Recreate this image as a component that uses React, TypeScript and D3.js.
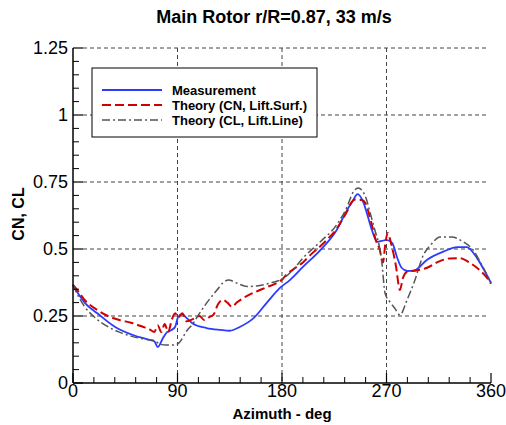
import React from "react";
import * as d3 from "d3";

const title = "Main Rotor r/R=0.87, 33 m/s";
const xLabel = "Azimuth - deg";
const yLabel = "CN, CL";
const xTicks = [0, 90, 180, 270, 360];
const yTicks = [0, 0.25, 0.5, 0.75, 1, 1.25];
const yTickLabels = ["0", "0.25", "0.5", "0.75", "1", "1.25"];
const seriesNames = ["Measurement", "Theory (CN, Lift.Surf.)", "Theory (CL, Lift.Line)"];

const measurement: [number, number][] = [
  [0, 0.366], [5, 0.33], [10, 0.3], [21, 0.26], [36, 0.21], [51, 0.18], [65, 0.162], [70, 0.156],
  [73, 0.134], [77.5, 0.168], [81, 0.19], [85, 0.198], [88, 0.21], [90.5, 0.246], [94, 0.257],
  [98, 0.242], [103, 0.222], [115, 0.205], [127, 0.198], [135, 0.195], [144, 0.21], [155, 0.24],
  [167, 0.3], [178, 0.354], [187, 0.385], [198, 0.433], [213, 0.496], [227, 0.57], [236, 0.645],
  [241, 0.68], [245, 0.705], [250, 0.675], [254, 0.62], [257.5, 0.57], [262, 0.527], [266, 0.53],
  [270, 0.534], [275, 0.522], [279, 0.47], [283, 0.43], [288, 0.418], [294, 0.42], [305, 0.46],
  [319, 0.49], [331, 0.507], [339, 0.507], [348, 0.466], [355, 0.414], [360, 0.373],
];

const theoryCN: [number, number][] = [
  [0, 0.366], [5, 0.34], [10, 0.31], [20, 0.275], [30, 0.25], [40, 0.235], [50, 0.225], [60, 0.21],
  [66, 0.2], [70, 0.19], [73, 0.215], [76, 0.19], [79, 0.22], [82, 0.19], [85, 0.235], [88, 0.26],
  [91, 0.245], [94, 0.26], [98, 0.23], [104, 0.24], [109, 0.25], [113, 0.235], [117, 0.245],
  [121, 0.255], [125, 0.295], [129, 0.31], [133, 0.3], [137, 0.284], [141, 0.3], [146, 0.315],
  [152, 0.33], [160, 0.345], [167, 0.358], [174, 0.37], [181, 0.39], [184, 0.405], [190, 0.425],
  [198, 0.45], [205, 0.48], [213, 0.51], [220, 0.54], [227, 0.575], [232, 0.61], [236, 0.64],
  [240, 0.675], [243, 0.685], [249, 0.683], [252, 0.67], [255, 0.63], [258, 0.58], [261, 0.53],
  [264, 0.5], [267, 0.45], [269, 0.52], [271, 0.56], [274, 0.52], [278, 0.44], [281.6, 0.347],
  [284, 0.39], [288, 0.415], [296, 0.42], [305, 0.43], [313.5, 0.45], [324.7, 0.465], [333, 0.466],
  [342, 0.448], [350.5, 0.42], [357, 0.39], [360, 0.37],
];

const theoryCL: [number, number][] = [
  [0, 0.366], [5, 0.32], [10, 0.285], [20, 0.24], [30, 0.21], [40, 0.19], [50, 0.175], [60, 0.165],
  [70, 0.158], [75, 0.145], [80, 0.142], [88, 0.142], [92, 0.153], [98, 0.195], [103, 0.22],
  [107, 0.247], [115, 0.298], [124, 0.347], [129, 0.373], [134, 0.384], [141, 0.373], [150, 0.36],
  [158, 0.362], [170, 0.373], [181, 0.39], [190, 0.425], [198, 0.466], [213, 0.527], [227, 0.59],
  [236, 0.657], [241, 0.71], [245.5, 0.728], [251.5, 0.7], [256, 0.634], [260, 0.57], [264, 0.507],
  [266, 0.45], [268.7, 0.336], [273, 0.302], [277, 0.28], [281.6, 0.254], [287.7, 0.31],
  [294.5, 0.384], [301, 0.47], [309, 0.52], [316, 0.545], [326, 0.545], [336, 0.527],
  [344.5, 0.497], [353, 0.433], [360, 0.375],
];

const W = 506;
const H = 425;
const left = 73, right = 491, top = 48, bottom = 383;

export default function App() {
  const x = d3.scaleLinear().domain([0, 360]).range([left, right]);
  const y = d3.scaleLinear().domain([0, 1.25]).range([bottom, top]);
  const line = d3
    .line<[number, number]>()
    .x((d) => x(d[0]))
    .y((d) => y(d[1]))
    .curve(d3.curveMonotoneX);

  const xMinor = d3.range(0, 361, 18).filter((v) => v % 90 !== 0);
  const yMinor = d3.range(0, 1.2501, 0.05).filter((v) => Math.abs((v / 0.25) - Math.round(v / 0.25)) > 1e-6);
  const gridDash = "4,3";
  const gridColor = "#444";
  const font = "Liberation Sans, Arial, sans-serif";

  const styles = [
    { stroke: "#2b3cff", width: 1.8, dash: undefined as string | undefined },
    { stroke: "#d10000", width: 2, dash: "9,4" },
    { stroke: "#555555", width: 1.5, dash: "8,3,2,3" },
  ];
  const data = [measurement, theoryCN, theoryCL];

  return (
    <svg
      width={W}
      height={H}
      style={{ position: "absolute", left: 0, top: 0, background: "#fff" }}
      fontFamily={font}
    >
      <rect x={0} y={0} width={W} height={H} fill="#fff" />
      <text x={274} y={23} textAnchor="middle" fontSize={18} fontWeight="bold" fill="#000">
        {title}
      </text>

      {/* horizontal grid */}
      {yTicks.filter((v) => v > 0).map((v) => (
        <line key={"hg" + v} x1={left + 10} x2={right - 2} y1={y(v)} y2={y(v)}
          stroke={gridColor} strokeDasharray={gridDash} strokeWidth={1} />
      ))}
      {/* vertical grid */}
      {xTicks.filter((v) => v > 0 && v < 360).map((v) => (
        <line key={"vg" + v} x1={x(v)} x2={x(v)} y1={top} y2={bottom}
          stroke={gridColor} strokeDasharray={gridDash} strokeWidth={1} />
      ))}

      {/* series */}
      {data.map((d, i) => (
        <path key={"s" + i} d={line(d) || ""} fill="none" stroke={styles[i].stroke}
          strokeWidth={styles[i].width} strokeDasharray={styles[i].dash} strokeLinejoin="round" />
      ))}

      {/* axes */}
      <line x1={left} x2={left} y1={top} y2={bottom} stroke="#000" strokeWidth={1.5} />
      <line x1={left} x2={right} y1={bottom} y2={bottom} stroke="#000" strokeWidth={1.5} />
      {yTicks.map((v) => (
        <line key={"yt" + v} x1={left} x2={left + 10} y1={y(v)} y2={y(v)} stroke="#000" strokeWidth={1.2} />
      ))}
      {yMinor.map((v) => (
        <line key={"ym" + v} x1={left} x2={left + 6} y1={y(v)} y2={y(v)} stroke="#000" strokeWidth={1} />
      ))}
      {xTicks.map((v) => (
        <line key={"xt" + v} x1={x(v)} x2={x(v)} y1={bottom} y2={bottom - 10} stroke="#000" strokeWidth={1.2} />
      ))}
      {xMinor.map((v) => (
        <line key={"xm" + v} x1={x(v)} x2={x(v)} y1={bottom} y2={bottom - 6} stroke="#000" strokeWidth={1} />
      ))}

      {/* tick labels */}
      {yTicks.map((v, i) => (
        <text key={"yl" + v} x={left - 5} y={y(v) + 6} textAnchor="end" fontSize={18} fill="#000">
          {yTickLabels[i]}
        </text>
      ))}
      {xTicks.map((v) => (
        <text key={"xl" + v} x={x(v)} y={bottom + 14} textAnchor="middle" fontSize={18} fill="#000">
          {String(v)}
        </text>
      ))}

      <text x={282} y={419} textAnchor="middle" fontSize={15} fontWeight="bold" fill="#000">
        {xLabel}
      </text>
      <text transform="translate(24,214) rotate(-90)" textAnchor="middle" fontSize={16} fontWeight="bold" fill="#000">
        {yLabel}
      </text>

      {/* legend */}
      <rect x={92} y={68} width={225} height={69} fill="#fff" stroke="#000" strokeWidth={1} />
      {seriesNames.map((name, i) => (
        <g key={"lg" + i}>
          <line x1={102} x2={162} y1={90 + i * 15} y2={90 + i * 15} stroke={styles[i].stroke}
            strokeWidth={styles[i].width} strokeDasharray={styles[i].dash} />
          <text x={172} y={95 + i * 15} fontSize={13} fontWeight="bold" fill="#000">
            {name}
          </text>
        </g>
      ))}
    </svg>
  );
}
